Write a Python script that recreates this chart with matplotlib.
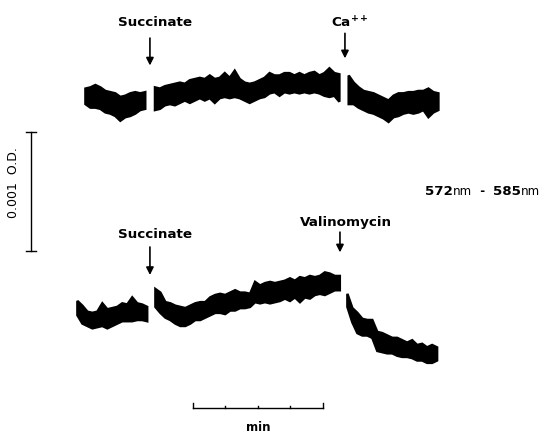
import numpy as np
import matplotlib
matplotlib.use("Agg")
import matplotlib.pyplot as plt

# time step of the read-off samples (s); absorbance in units of 1e-5 O.D.
dt = 2.3

# --- upper recording (succinate, then Ca++) ---
top1_t0 = 3.7
top1_hi = [10, 11, 13, 11, 8, 7, 6, 3, 4, 6, 7, 6, 7]
top1_lo = [-3, -6, -6, -7, -10, -11, -13, -17, -14, -13, -11, -8, -7]

top2_t0 = 35.8
top2_hi = [11, 10, 12, 13, 14, 15, 14, 17, 18, 19, 18, 21, 18, 19, 23, 19, 25, 18, 15, 14,
           15, 17, 19, 23, 21, 21, 23, 23, 21, 23, 21, 23, 24, 21, 23, 27, 23, 22]
top2_lo = [-8, -7, -4, -3, -4, -2, 0, -2, 0, 2, 0, 2, -2, 2, 3, 2, 3, 2, 0, -2,
           0, 2, 3, 6, 7, 4, 7, 6, 7, 6, 7, 6, 7, 6, 4, 3, 4, -1]

top3_t0 = 125.2
top3_hi = [21, 15, 11, 8, 7, 6, 4, 2, 0, 4, 6, 6, 7, 7, 8, 8, 10, 7, 6]
top3_lo = [-3, -3, -6, -8, -10, -11, -13, -15, -18, -14, -13, -11, -10, -11, -10, -8, -14, -10, -8]

# --- lower recording (succinate, then valinomycin) ---
bot1_t0 = 0.0
bot1_hi = [8, 4, -1, -2, -1, 6, 1, 2, 3, 6, 5, 11, 6, 5, 3]
bot1_lo = [-4, -11, -13, -15, -14, -13, -15, -13, -11, -9, -9, -9, -8, -8, -9]

bot2_t0 = 36.0
bot2_hi = [18, 15, 7, 6, 4, 3, 2, 4, 6, 7, 7, 11, 13, 14, 13, 15, 17, 15, 15, 14,
           24, 21, 23, 24, 23, 24, 25, 27, 25, 28, 27, 29, 28, 29, 32, 31, 29, 29]
bot2_lo = [3, -2, -6, -8, -11, -13, -13, -11, -8, -8, -6, -4, -2, -2, -3, 0, 0, 2, 2, 3,
           7, 6, 7, 6, 7, 8, 10, 8, 11, 7, 11, 10, 13, 14, 13, 15, 17, 17]

bot3_t0 = 124.6
bot3_hi = [14, 2, -2, -7, -8, -8, -18, -19, -21, -23, -23, -25, -27, -25, -29, -28, -31, -29, -31]
bot3_lo = [3, -10, -19, -21, -21, -23, -34, -35, -36, -36, -38, -39, -39, -40, -42, -42, -44, -44, -42]

od_bar = 100      # 0.001 O.D.
min_bar = 60      # 1 min
min_ticks = [0, 15, 30, 45, 60]

fig = plt.figure(figsize=(5.51, 4.32), dpi=100)
ax = fig.add_axes([0, 0, 1, 1])
ax.set_xlim(-35.5, 218.8)
ax.set_ylim(-26.9, 336)
ax.axis("off")


def band(t0, hi, lo, off):
    t = t0 + dt * np.arange(len(hi))
    ax.fill_between(t, np.array(lo) + off, np.array(hi) + off,
                    color="black", lw=1.8, edgecolor="black", joinstyle="miter")


top_off = 252
bot_off = 75.6
for t0, hi, lo in [(top1_t0, top1_hi, top1_lo), (top2_t0, top2_hi, top2_lo),
                   (top3_t0, top3_hi, top3_lo)]:
    band(t0, hi, lo, top_off)
for t0, hi, lo in [(bot1_t0, bot1_hi, bot1_lo), (bot2_t0, bot2_hi, bot2_lo),
                   (bot3_t0, bot3_hi, bot3_lo)]:
    band(t0, hi, lo, bot_off)

bold = dict(fontfamily="DejaVu Sans", fontweight="bold", fontsize=9.7,
            ha="center", va="center")
arrow = dict(arrowstyle="-|>", lw=1.2, color="black", mutation_scale=11,
             shrinkA=0, shrinkB=0)


def marker(label, tx, ty, ax_t, y0, y1):
    ax.text(tx, ty, label, **bold)
    ax.annotate("", xy=(ax_t, y1), xytext=(ax_t, y0), arrowprops=arrow)


marker("Succinate", 36.0, 316.7, 33.7, 304, 281)
marker("Ca$^{\\mathbf{++}}$", 126.0, 316.7, 123.7, 308, 287)
marker("Succinate", 36.0, 138.6, 33.7, 128.5, 105)
marker("Valinomycin", 124.2, 149.5, 121.4, 141, 124)

# O.D. scale bar
bx, by = -21.2, 125.2
ax.plot([bx, bx], [by, by + od_bar], color="black", lw=1.0)
for yy in (by, by + od_bar):
    ax.plot([bx - 2.1, bx + 2.1], [yy, yy], color="black", lw=1.0)
ax.text(-29.5, 183, "0.001  O.D.", rotation=90, fontfamily="DejaVu Sans",
        fontsize=9, ha="center", va="center")

# time scale bar
mx, my = 53.5, -6.7
ax.plot([mx, mx + min_bar], [my, my], color="black", lw=1.0)
for k, tk in enumerate(min_ticks):
    h = 2.3 if k in (0, len(min_ticks) - 1) else 1.2
    ax.plot([mx + tk, mx + tk], [my, my + h * 1.7], color="black", lw=1.0)
ax.text(mx + min_bar / 2, -22.7, "min", fontfamily="DejaVu Sans",
        fontweight="bold", fontsize=8.5, ha="center", va="center")

# wavelength pair label
parts = [("572", 9.6, "bold"), ("nm", 8.6, "normal"), ("  -  ", 8.6, "bold"),
         ("585", 9.6, "bold"), ("nm", 8.6, "normal")]
prev = None
for s, fs, fw in parts:
    if prev is None:
        prev = ax.text(160.6, 172.2, s, fontfamily="DejaVu Sans", fontsize=fs,
                       fontweight=fw, ha="left", va="baseline")
    else:
        prev = ax.annotate(s, xy=(1, 0), xycoords=prev, fontfamily="DejaVu Sans",
                           fontsize=fs, fontweight=fw, ha="left", va="bottom")

fig.savefig("out.png", dpi=100)
